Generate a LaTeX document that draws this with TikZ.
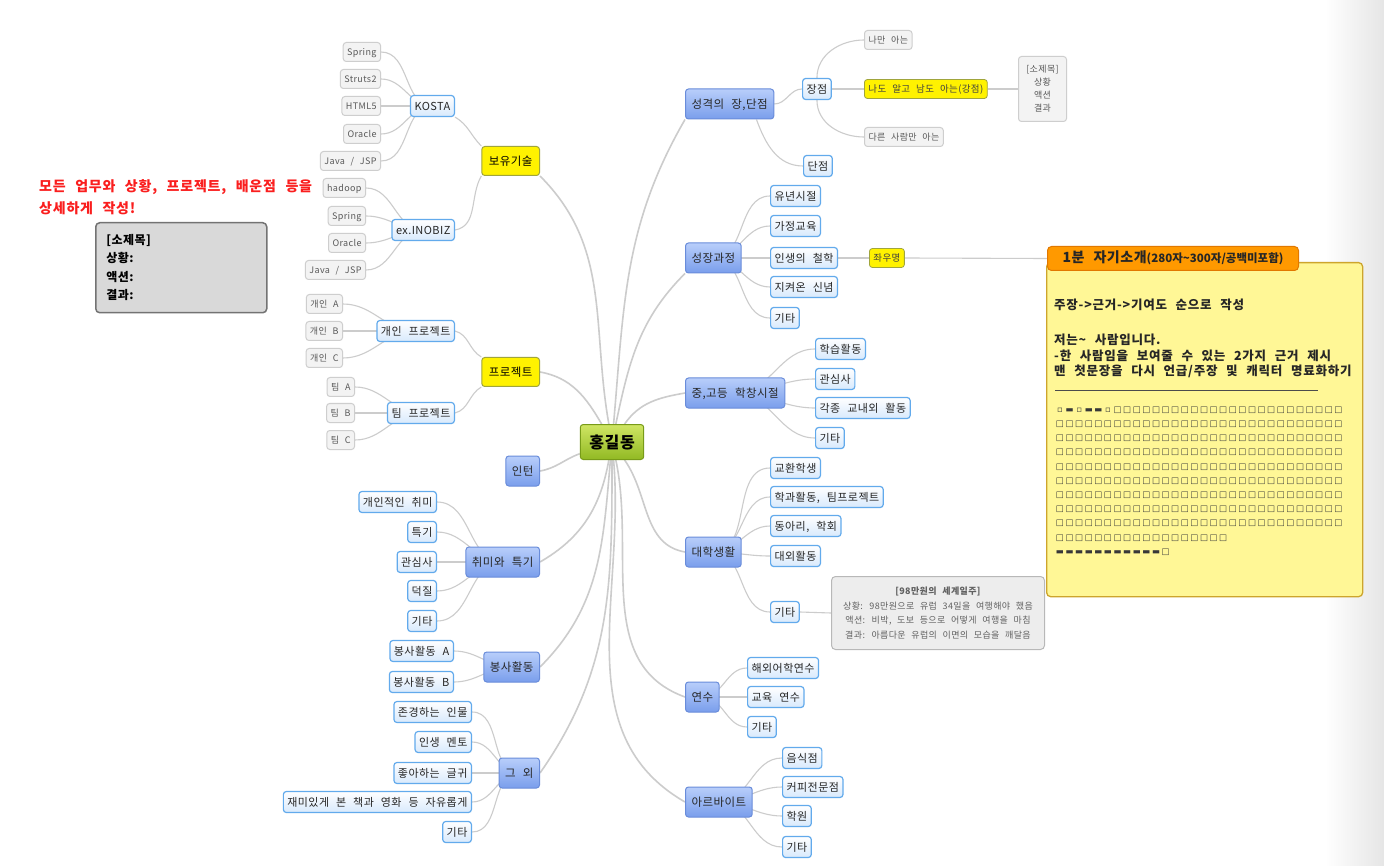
\documentclass[tikz,border=0pt]{standalone}
\usepackage{fontspec}
\setmainfont{Noto Sans CJK KR}[WordSpace=2.4, LetterSpace=4]
\newfontfamily\symfont{DejaVu Sans}
\usetikzlibrary{backgrounds}

\definecolor{wire}{RGB}{204,204,204}
\definecolor{hubtop}{RGB}{208,230,100}
\definecolor{hubbot}{RGB}{145,185,35}
\definecolor{hubline}{RGB}{120,155,25}
\definecolor{maintop}{RGB}{184,206,250}
\definecolor{mainbot}{RGB}{122,158,236}
\definecolor{mainline}{RGB}{105,140,218}
\definecolor{subbot}{RGB}{216,233,252}
\definecolor{subline}{RGB}{98,170,236}
\definecolor{leaffill}{RGB}{243,243,243}
\definecolor{leafline}{RGB}{206,206,206}
\definecolor{markline}{RGB}{160,165,60}
\definecolor{memofill}{RGB}{255,247,150}
\definecolor{memoline}{RGB}{205,165,45}
\definecolor{tabfill}{RGB}{255,153,0}
\definecolor{tabline}{RGB}{225,120,0}
\definecolor{alertred}{RGB}{250,30,30}

\newcommand\cells[2]{\foreach \i in {1,...,#1}{\makebox[9.6pt]{#2}}}

\begin{document}
\begin{tikzpicture}[x=1pt,y=-1pt,
  nodebox/.style={rounded corners=3pt, inner ysep=0pt},
  hubbox/.style={nodebox, draw=hubline, line width=1pt, top color=hubtop, bottom color=hubbot,
    minimum height=35, inner xsep=9, text height=13.8pt, text depth=1.6pt,
    font=\fontsize{16}{18}\selectfont\bfseries},
  mainbox/.style={nodebox, draw=mainline, line width=1pt, top color=maintop, bottom color=mainbot,
    minimum height=30, inner xsep=6, text=black!85, text height=9.9pt, text depth=1.2pt,
    font=\fontsize{11.5}{13}\selectfont},
  markbox/.style={nodebox, draw=markline, line width=1pt, fill=yellow, minimum height=29,
    inner xsep=7, text height=9.9pt, text depth=1.2pt, font=\fontsize{11.5}{13}\selectfont},
  subbox/.style={nodebox, draw=subline, line width=1.2pt, top color=white, bottom color=subbot,
    minimum height=21, inner xsep=4, text=black!85, text height=9.5pt, text depth=1.1pt,
    font=\fontsize{11}{12}\selectfont},
  leafbox/.style={nodebox, draw=leafline, line width=1pt, fill=leaffill, minimum height=19,
    inner xsep=4, text=black!65, text height=7.7pt, text depth=0.9pt,
    font=\fontsize{9}{10}\selectfont},
  tagbox/.style={nodebox, draw=markline, line width=.8pt, fill=yellow, minimum height=19,
    inner xsep=4, text=black!75, text height=8.2pt, text depth=1pt,
    font=\fontsize{9.5}{10}\selectfont},
  cellrow/.style={anchor=west, inner sep=0pt, text=black!78, font=\symfont\fontsize{8.5}{9}\selectfont},
  branch/.style={draw=wire, line width=1.6pt},
  twig/.style={draw=wire, line width=1.1pt},
]
\useasboundingbox (0,0) rectangle (1384,866);

% centre
\node (hub) [hubbox, at={(612,442)}] {홍길동};

% left side
\node (skill) [markbox, anchor=east, at={(540,161)}] {보유기술};
\node (kosta) [subbox, anchor=east, at={(455,106)}] {KOSTA};
\node (k1) [leafbox, anchor=east, at={(381,52)}] {Spring};
\node (k2) [leafbox, anchor=east, at={(381,79)}] {Struts2};
\node (k3) [leafbox, anchor=east, at={(381,106)}] {HTML5};
\node (k4) [leafbox, anchor=east, at={(381,134)}] {Oracle};
\node (k5) [leafbox, anchor=east, at={(381,161)}] {Java / JSP};
\node (inobiz) [subbox, anchor=east, at={(455,230)}] {ex.INOBIZ};
\node (e1) [leafbox, anchor=east, at={(366,188)}] {hadoop};
\node (e2) [leafbox, anchor=east, at={(366,216)}] {Spring};
\node (e3) [leafbox, anchor=east, at={(366,243)}] {Oracle};
\node (e4) [leafbox, anchor=east, at={(366,270)}] {Java / JSP};

\node (project) [markbox, anchor=east, at={(540,372)}] {프로젝트};
\node (solo) [subbox, anchor=east, at={(455,331)}] {개인 프로젝트};
\node (s1) [leafbox, anchor=east, at={(343,304)}] {개인 A};
\node (s2) [leafbox, anchor=east, at={(343,331)}] {개인 B};
\node (s3) [leafbox, anchor=east, at={(343,358)}] {개인 C};
\node (team) [subbox, anchor=east, at={(455,413)}] {팀 프로젝트};
\node (t1) [leafbox, anchor=east, at={(355,387)}] {팀 A};
\node (t2) [leafbox, anchor=east, at={(355,413)}] {팀 B};
\node (t3) [leafbox, anchor=east, at={(355,440)}] {팀 C};

\node (intern) [mainbox, anchor=east, at={(540,471)}] {인턴};

\node (hobby) [mainbox, anchor=east, at={(540,562)}] {취미와 특기};
\node (h1) [subbox, anchor=east, at={(437,502)}] {개인적인 취미};
\node (h2) [subbox, anchor=east, at={(437,532)}] {특기};
\node (h3) [subbox, anchor=east, at={(437,562)}] {관심사};
\node (h4) [subbox, anchor=east, at={(437,591)}] {덕질};
\node (h5) [subbox, anchor=east, at={(437,621)}] {기타};

\node (volunteer) [mainbox, anchor=east, at={(540,667)}] {봉사활동};
\node (v1) [subbox, anchor=east, at={(454,651)}] {봉사활동 A};
\node (v2) [subbox, anchor=east, at={(454,682)}] {봉사활동 B};

\node (misc) [mainbox, anchor=east, at={(540,773)}] {그 외};
\node (m1) [subbox, anchor=east, at={(472,712)}] {존경하는 인물};
\node (m2) [subbox, anchor=east, at={(472,742)}] {인생 멘토};
\node (m3) [subbox, anchor=east, at={(472,773)}] {좋아하는 글귀};
\node (m4) [subbox, anchor=east, at={(472,802)}] {재미있게 본 책과 영화 등 자유롭게};
\node (m5) [subbox, anchor=east, at={(472,832)}] {기타};

% note on the left
\node (advice) [anchor=north west, at={(39,179)}, align=left, inner sep=0pt, text=alertred,
  font=\fontsize{14}{22}\selectfont\bfseries\addfontfeatures{LetterSpace=5.5}] {모든 업무와 상황, 프로젝트, 배운점 등을\\상세하게 작성!};
\node (card) [anchor=north west, at={(95,222)}, minimum width=171, minimum height=90,
  text width=150, inner xsep=8, align=left, draw=black!55, line width=1.5pt, fill=black!15,
  rounded corners=4pt, font=\fontsize{12}{18.5}\selectfont\bfseries] {[소제목]\\상황:\\액션:\\결과:};

% right side
\node (trait) [mainbox, anchor=west, at={(685,104)}] {성격의 장,단점};
\node (merit) [subbox, anchor=west, at={(802,89)}] {장점};
\node (demerit) [subbox, anchor=west, at={(803,166)}] {단점};
\node (selfonly) [leafbox, anchor=west, at={(864,40)}] {나만 아는};
\node (known) [tagbox, anchor=west, at={(864,89)}] {나도 알고 남도 아는(강점)};
\node (othersonly) [leafbox, anchor=west, at={(864,137)}] {다른 사람만 아는};
\node (brief) [anchor=west, at={(1018,89)}, minimum width=48, minimum height=65, inner sep=2pt,
  align=center, draw=leafline, line width=1pt, fill=leaffill, rounded corners=3pt,
  text=black!65, font=\fontsize{9}{13}\selectfont] {[소제목]\\상황\\액션\\결과};

\node (growth) [mainbox, anchor=west, at={(685,258)}] {성장과정};
\node (g1) [subbox, anchor=west, at={(770,196)}] {유년시절};
\node (g2) [subbox, anchor=west, at={(770,226)}] {가정교육};
\node (g3) [subbox, anchor=west, at={(770,258)}] {인생의 철학};
\node (g4) [subbox, anchor=west, at={(770,287)}] {지켜온 신념};
\node (g5) [subbox, anchor=west, at={(770,318)}] {기타};
\node (motto) [tagbox, anchor=west, at={(869,258)}] {좌우명};

\node (school) [mainbox, anchor=west, at={(685,393)}] {중,고등 학창시절};
\node (c1) [subbox, anchor=west, at={(815,349)}] {학습활동};
\node (c2) [subbox, anchor=west, at={(815,379)}] {관심사};
\node (c3) [subbox, anchor=west, at={(815,408)}] {각종 교내외 활동};
\node (c4) [subbox, anchor=west, at={(815,438)}] {기타};

\node (college) [mainbox, anchor=west, at={(685,552)}] {대학생활};
\node (u1) [subbox, anchor=west, at={(770,468)}] {교환학생};
\node (u2) [subbox, anchor=west, at={(770,497)}] {학과활동, 팀프로젝트};
\node (u3) [subbox, anchor=west, at={(770,526)}] {동아리, 학회};
\node (u4) [subbox, anchor=west, at={(770,556)}] {대외활동};
\node (u5) [subbox, anchor=west, at={(770,612)}] {기타};
\node (trip) [anchor=west, at={(831,613)}, minimum width=213, minimum height=73, inner sep=2pt,
  align=center, draw=black!28, line width=1pt, fill=black!7, rounded corners=4pt,
  text=black!62, font=\fontsize{9}{14.5}\selectfont]
  {{\bfseries [98만원의 세계일주]}\\상황: 98만원으로 유럽 34일을 여행해야 했음\\액션: 비박, 도보 등으로 어떻게 여행을 마침\\결과: 아름다운 유럽의 이면의 모습을 깨달음};

\node (course) [mainbox, anchor=west, at={(685,697)}] {연수};
\node (r1) [subbox, anchor=west, at={(747,668)}] {해외어학연수};
\node (r2) [subbox, anchor=west, at={(747,697)}] {교육 연수};
\node (r3) [subbox, anchor=west, at={(747,727)}] {기타};

\node (parttime) [mainbox, anchor=west, at={(685,802)}] {아르바이트};
\node (p1) [subbox, anchor=west, at={(782,758)}] {음식점};
\node (p2) [subbox, anchor=west, at={(782,787)}] {커피전문점};
\node (p3) [subbox, anchor=west, at={(782,816)}] {학원};
\node (p4) [subbox, anchor=west, at={(782,847)}] {기타};

% memo
\node (memo) [anchor=north west, at={(1046,262)}, minimum width=316, minimum height=334,
  draw=memoline, line width=1.3pt, fill=memofill, rounded corners=4pt] {};
\node (intro) [anchor=north west, at={(1047,246)}, minimum width=251, minimum height=24,
  inner xsep=4, inner ysep=0pt, fill=tabfill, draw=tabline, line width=1pt, rounded corners=4pt,
  text=black!85, text height=10pt, text depth=1.5pt]
  {\fontsize{14}{15}\selectfont\bfseries 1분\hspace{9pt}자기소개\fontsize{11.5}{12}\selectfont\addfontfeatures{LetterSpace=0}(280자\textasciitilde300자/공백미포함)};
\node (memotext) [anchor=north west, at={(1054,299)}, align=left, inner sep=0pt, text=black!85,
  font=\fontsize{12.5}{15.5}\selectfont\bfseries\addfontfeatures{LetterSpace=6}]
  {주장->근거->기여도 순으로 작성\\[19.5pt]저는\textasciitilde{} 사람입니다.\\-한 사람임을 보여줄 수 있는 2가지 근거 제시\\맨 첫문장을 다시 언급/주장 및 캐릭터 명료화하기};
\draw[line width=1pt, black!70] (1055,391) -- (1318,391);
\node (row1) [cellrow, at={(1055,410)}] {\cells{1}{▫}\cells{1}{▬}\cells{1}{▫}\cells{2}{▬}\cells{1}{▫}\cells{24}{□}};
\foreach \r in {2,...,9}
  \node (row\r) [cellrow, at={(1055,{410+(\r-1)*14.2})}] {\cells{30}{□}};
\node (row10) [cellrow, at={(1055,538)}] {\cells{18}{□}};
\node (row11) [cellrow, at={(1055,552)}] {\cells{11}{▬}\cells{1}{□}};

\begin{scope}[on background layer]
\fill[white] (0,0) rectangle (1384,866);
\shade[left color=white, right color=black!10] (1325,0) rectangle (1384,866);
% trunk
\draw[branch] (hub) to[out=100,in=-45] (skill.south east);
\draw[branch] (hub) to[out=120,in=-10] (project.east);
\draw[branch] (hub) to[out=200,in=10] (intern.east);
\draw[branch] (hub) to[out=-100,in=30] (hobby.east);
\draw[branch] (hub) to[out=-95,in=45] (volunteer.east);
\draw[branch] (hub) to[out=-90,in=55] (misc.east);
\draw[branch] (hub) to[out=85,in=-120] (trait.south west);
\draw[branch] (hub) to[out=78,in=-135] (growth.south west);
\draw[branch] (hub) to[out=55,in=190] (school.west);
\draw[branch] (hub) to[out=-55,in=170] (college.west);
\draw[branch] (hub) to[out=-78,in=160] (course.west);
\draw[branch] (hub) to[out=-85,in=150] (parttime.west);
% left twigs
\draw[twig] (skill.north west) to[out=135,in=-30] (kosta.south east);
\draw[twig] (skill.south west) to[out=-120,in=10] (inobiz.east);
\draw[twig] (project.north west) to[out=150,in=-15] (solo.east);
\draw[twig] (project.south west) to[out=-150,in=15] (team.east);
\foreach \n in {k1,k2,k3,k4,k5} \draw[twig] (kosta.center) to[out=180,in=0] (\n.east);
\foreach \n in {e1,e2,e3,e4} \draw[twig] (inobiz.center) to[out=180,in=0] (\n.east);
\foreach \n in {s1,s2,s3} \draw[twig] (solo.center) to[out=180,in=0] (\n.east);
\foreach \n in {t1,t2,t3} \draw[twig] (team.center) to[out=180,in=0] (\n.east);
\foreach \n in {h1,h2,h3,h4,h5} \draw[twig] (hobby.center) to[out=180,in=0] (\n.east);
\foreach \n in {v1,v2} \draw[twig] (volunteer.center) to[out=180,in=0] (\n.east);
\foreach \n in {m1,m2,m3,m4,m5} \draw[twig] (misc.center) to[out=180,in=0] (\n.east);
% right twigs
\draw[twig] (trait.east) to[out=0,in=180] (merit.west);
\draw[twig] (trait.-30) to[out=-70,in=180] (demerit.west);
\draw[twig] (merit.north) to[out=90,in=180] (selfonly.west);
\draw[twig] (merit.east) -- (known.west);
\draw[twig] (merit.south) to[out=-90,in=180] (othersonly.west);
\draw[twig] (known.east) -- (brief.west);
\foreach \n in {g1,g2,g3,g4,g5} \draw[twig] (growth.center) to[out=0,in=180] (\n.west);
\draw[twig] (g3.east) -- (motto.west);
\draw[twig] (motto.east) -- (intro.west);
\foreach \n in {c1,c2,c3,c4} \draw[twig] (school.center) to[out=0,in=180] (\n.west);
\foreach \n in {u1,u2,u3,u4,u5} \draw[twig] (college.center) to[out=0,in=180] (\n.west);
\draw[twig] (u5.east) -- (trip.west);
\foreach \n in {r1,r2,r3} \draw[twig] (course.center) to[out=0,in=180] (\n.west);
\foreach \n in {p1,p2,p3,p4} \draw[twig] (parttime.center) to[out=0,in=180] (\n.west);
\end{scope}
\end{tikzpicture}
\end{document}
